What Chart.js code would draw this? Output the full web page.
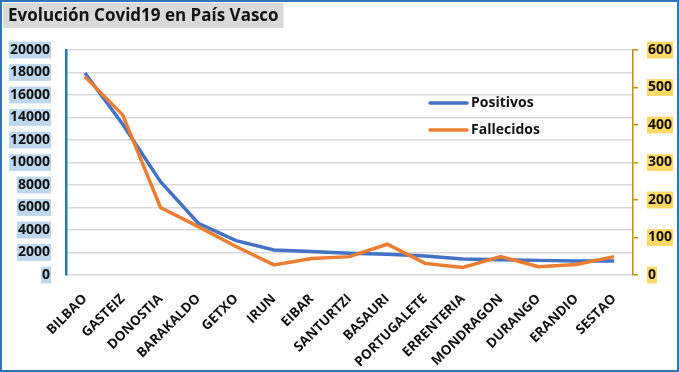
<!DOCTYPE html>
<html>
<head>
<meta charset="utf-8">
<script src="https://cdn.jsdelivr.net/npm/chart.js@4/dist/chart.umd.min.js"></script>
<style>
  html, body { margin: 0; padding: 0; background: #ffffff; }
  #wrap { width: 679px; height: 372px; position: relative; }
</style>
</head>
<body>
<div id="wrap"><canvas id="c" width="679" height="372"></canvas></div>
<script>
const titleText = "Evolución Covid19 en País Vasco";
const categories = ["BILBAO", "GASTEIZ", "DONOSTIA", "BARAKALDO", "GETXO", "IRUN", "EIBAR", "SANTURTZI", "BASAURI", "PORTUGALETE", "ERRENTERIA", "MONDRAGON", "DURANGO", "ERANDIO", "SESTAO"];
const positivos = [17950, 13400, 8300, 4600, 3060, 2230, 2080, 1930, 1840, 1690, 1420, 1360, 1300, 1240, 1240];
const fallecidos = [529, 427, 180, 129, 76, 27, 44, 49, 82, 31, 20, 49, 22, 28, 49];
const leftTicks = [0, 20000, 2000];   // min, max, step
const rightTicks = [0, 600, 100];     // min, max, step

const FONT = "'Open Sans', 'Liberation Sans', sans-serif";

const decorPlugin = {
  id: 'decor',
  beforeDraw(chart) {
    const ctx = chart.ctx;
    ctx.save();
    ctx.fillStyle = '#ffffff';
    ctx.fillRect(0, 0, chart.width, chart.height);
    ctx.font = "bold 17px " + FONT;
    const w = ctx.measureText(titleText).width;
    ctx.fillStyle = '#D9D9D9';
    ctx.fillRect(3, 3, w + 10, 25);
    ctx.restore();
  },
  afterDatasetsDraw(chart) {
    const ctx = chart.ctx;
    ctx.save();
    const rows = [103, 130];
    chart.data.datasets.forEach((ds, i) => {
      const y = rows[i];
      ctx.strokeStyle = ds.borderColor;
      ctx.lineWidth = 3.5;
      ctx.lineCap = 'round';
      ctx.beginPath();
      ctx.moveTo(430, y);
      ctx.lineTo(467, y);
      ctx.stroke();
      ctx.fillStyle = '#111111';
      ctx.font = "bold 14px " + FONT;
      ctx.textBaseline = 'middle';
      ctx.textAlign = 'left';
      ctx.fillText(ds.label, 471, y);
    });
    ctx.restore();
  },
  afterDraw(chart) {
    const ctx = chart.ctx;
    ctx.save();
    ctx.strokeStyle = '#2E75B6';
    ctx.lineWidth = 2;
    ctx.strokeRect(1, 1, chart.width - 2, chart.height - 2);
    ctx.restore();
  }
};

new Chart(document.getElementById('c'), {
  type: 'line',
  data: {
    labels: categories,
    datasets: [
      {
        label: 'Positivos',
        data: positivos,
        yAxisID: 'y',
        borderColor: '#4472C4',
        backgroundColor: '#4472C4',
        borderWidth: 3.5,
        pointRadius: 0,
        tension: 0,
        order: 2
      },
      {
        label: 'Fallecidos',
        data: fallecidos,
        yAxisID: 'y1',
        borderColor: '#ED7D31',
        backgroundColor: '#ED7D31',
        borderWidth: 3.5,
        pointRadius: 0,
        tension: 0,
        order: 1
      }
    ]
  },
  options: {
    responsive: false,
    animation: false,
    layout: { padding: { left: 8, right: 0, top: 0, bottom: 0 } },
    plugins: {
      legend: { display: false },
      tooltip: { enabled: false },
      title: {
        display: true,
        text: titleText,
        align: 'start',
        color: '#111111',
        font: { family: FONT, size: 17, weight: 'bold', lineHeight: 1.2 },
        padding: { top: 5.5, bottom: 24.1 }
      }
    },
    scales: {
      x: {
        offset: true,
        grid: { display: false },
        border: { display: false },
        ticks: {
          autoSkip: false,
          minRotation: 45,
          maxRotation: 45,
          padding: 8,
          color: '#111111',
          font: { family: FONT, size: 13.5, weight: 'bold' }
        },
        afterFit(scale) { scale.height = 97; }
      },
      y: {
        position: 'left',
        min: leftTicks[0],
        max: leftTicks[1],
        ticks: {
          stepSize: leftTicks[2],
          padding: 16,
          color: '#111111',
          font: { family: FONT, size: 14, weight: 'bold' },
          showLabelBackdrop: true,
          backdropColor: '#BDD7EE',
          backdropPadding: { top: 0, bottom: 0, left: 1, right: 1 },
          callback: (v) => String(v)
        },
        grid: { color: '#D9D9D9', lineWidth: 1.5, drawTicks: false },
        border: { display: true, color: '#1E78C8', width: 2.5 },
        afterFit(scale) { scale.width = 58; }
      },
      y1: {
        position: 'right',
        min: rightTicks[0],
        max: rightTicks[1],
        ticks: {
          stepSize: rightTicks[2],
          padding: 10,
          color: '#111111',
          font: { family: FONT, size: 14, weight: 'bold' },
          showLabelBackdrop: true,
          backdropColor: '#FFD966',
          backdropPadding: { top: 0, bottom: 0, left: 1, right: 1 },
          callback: (v) => String(v)
        },
        grid: { drawOnChartArea: false, drawTicks: true, tickLength: 5, color: '#BF9000', lineWidth: 1.5 },
        border: { display: true, color: '#BF9000', width: 1.5 },
        afterFit(scale) { scale.width = 46; }
      }
    }
  },
  plugins: [decorPlugin]
});
</script>
</body>
</html>
